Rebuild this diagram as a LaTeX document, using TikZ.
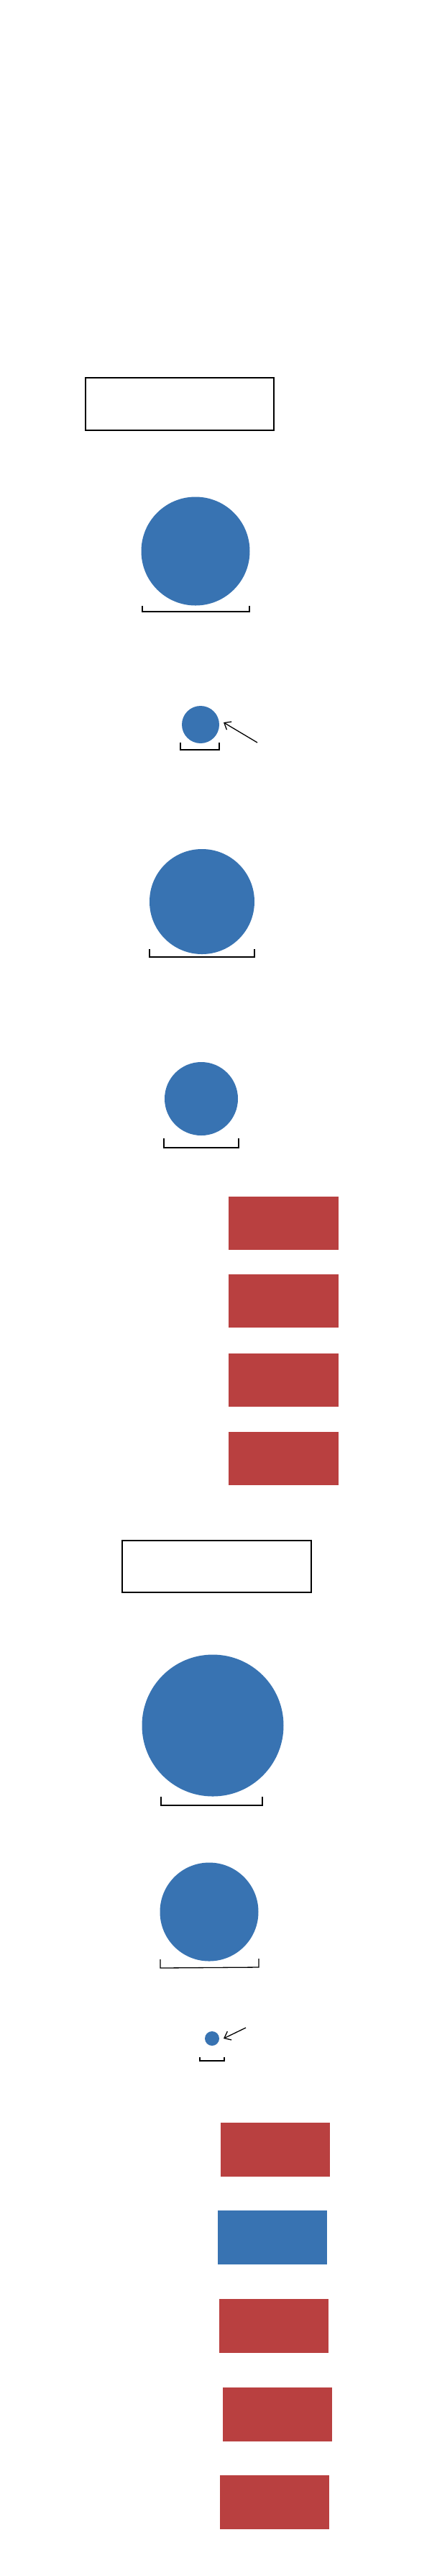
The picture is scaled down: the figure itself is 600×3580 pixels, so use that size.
\documentclass[tikz,border=0pt]{standalone}
\usetikzlibrary{arrows.meta}
\definecolor{cblue}{RGB}{56,115,178}
\definecolor{cred}{RGB}{185,64,64}
\begin{document}
\begin{tikzpicture}[x=1pt,y=-1pt,
  framebox/.style={draw=black,line width=1.5pt,inner sep=0pt,minimum width=262pt,minimum height=73pt},
  dot/.style={circle,fill=cblue,draw=none,inner sep=0pt},
  redbar/.style={rectangle,fill=cred,draw=none,inner sep=0pt,minimum width=153pt,minimum height=74pt},
  bluebar/.style={rectangle,fill=cblue,draw=none,inner sep=0pt,minimum width=153pt,minimum height=74pt},
  brack/.style={draw=black,line width=1.3pt},
  pointer/.style={draw=black,line width=1.3pt,-{Straight Barb[length=8pt,width=13pt]}}]
\useasboundingbox (0,0) rectangle (600,3580);
\fill[white] (0,0) rectangle (600,3580);

% first group
\node[framebox] (f1) at (250,561.5) {};
\node[dot,minimum size=151pt] (c1) at (272,766) {};
\node[dot,minimum size=52pt] (c2) at (279,1007) {};
\node[dot,minimum size=146pt] (c3) at (281,1253) {};
\node[dot,minimum size=102pt] (c4) at (280,1527) {};
\node[redbar] (r1) at (394.5,1700) {};
\node[redbar] (r2) at (394.5,1808) {};
\node[redbar] (r3) at (394.5,1918) {};
\node[redbar] (r4) at (394.5,2027) {};

% second group
\node[framebox,minimum width=263pt,minimum height=72pt] (f2) at (301.5,2177) {};
\node[dot,minimum size=197pt] (c5) at (296,2398) {};
\node[dot,minimum size=137pt] (c6) at (291,2657) {};
\node[dot,minimum size=20pt] (c7) at (295,2833) {};
\node[redbar,minimum width=152pt,minimum height=75pt] (s1) at (383,2987) {};
\node[bluebar,minimum width=152pt,minimum height=75pt] (s2) at (379,3109.5) {};
\node[redbar,minimum width=152pt,minimum height=75pt] (s3) at (381,3232.5) {};
\node[redbar,minimum width=152pt,minimum height=75pt] (s4) at (386,3355.5) {};
\node[redbar,minimum width=152pt,minimum height=75pt] (s5) at (382,3477.5) {};

% brackets
\draw[brack] (198,842) -- (198,850) -- (347,850) -- (347,842);
\draw[brack] (251,1032) -- (251,1042) -- (305,1042) -- (305,1032);
\draw[brack] (208,1319) -- (208,1330) -- (354,1330) -- (354,1319);
\draw[brack] (228,1582) -- (228,1595) -- (332,1595) -- (332,1582);
\draw[brack] (224,2497) -- (224,2509) -- (365,2509) -- (365,2497);
\draw[brack] (223,2723) -- (223,2735) -- (360,2734) -- (360,2722);
\draw[brack] (278,2859) -- (278,2864) -- (312,2864) -- (312,2859);

% pointers
\coordinate (p2) at (358,1032);
\coordinate (t2) at (311,1004);
\draw[pointer] (p2) -- (t2);
\coordinate (p7) at (342,2818);
\coordinate (t7) at (311,2833);
\draw[pointer] (p7) -- (t7);
\end{tikzpicture}
\end{document}
